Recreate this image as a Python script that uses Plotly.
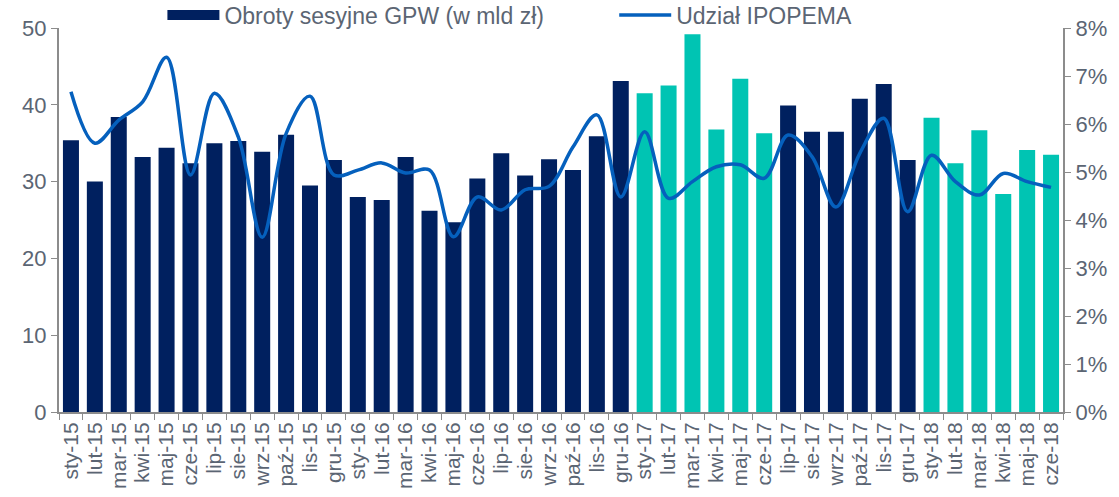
import plotly.graph_objects as go

months = ["sty-15","lut-15","mar-15","kwi-15","maj-15","cze-15","lip-15","sie-15","wrz-15","paź-15","lis-15","gru-15",
          "sty-16","lut-16","mar-16","kwi-16","maj-16","cze-16","lip-16","sie-16","wrz-16","paź-16","lis-16","gru-16",
          "sty-17","lut-17","mar-17","kwi-17","maj-17","cze-17","lip-17","sie-17","wrz-17","paź-17","lis-17","gru-17",
          "sty-18","lut-18","mar-18","kwi-18","maj-18","cze-18"]

turnover = [35.4, 30.0, 38.4, 33.2, 34.4, 32.4, 35.0, 35.3, 33.9, 36.1, 29.5, 32.8,
            28.0, 27.6, 33.2, 26.2, 24.7, 30.4, 33.7, 30.8, 32.9, 31.5, 35.9, 43.1,
            41.5, 42.5, 49.2, 36.8, 43.4, 36.3, 39.9, 36.5, 36.5, 40.8, 42.7, 32.8,
            38.3, 32.4, 36.7, 28.4, 34.1, 33.5]

share = [6.67, 5.60, 6.08, 6.46, 7.39, 4.94, 6.64, 5.73, 3.64, 5.80, 6.58, 4.94,
         5.04, 5.19, 4.98, 5.04, 3.65, 4.48, 4.21, 4.63, 4.70, 5.52, 6.19, 4.48,
         5.84, 4.45, 4.80, 5.11, 5.15, 4.87, 5.77, 5.32, 4.27, 5.39, 6.12, 4.17,
         5.35, 4.80, 4.52, 4.97, 4.80, 4.68]

NAVY = "#00205F"
TEAL = "#00C4B3"
LINE = "#0560BD"
TXT = "#5B6573"
AX = "#8C8C8C"

bar_colors = [TEAL if (m.endswith("-17") or m.endswith("-18")) and m[:3] in ("sty","lut","mar","kwi","maj","cze") else NAVY
              for m in months]

fig = go.Figure()
fig.add_trace(go.Bar(x=months, y=turnover, name="Obroty sesyjne GPW (w mld zł)", showlegend=False,
                     marker=dict(color=bar_colors, line=dict(width=0)), yaxis="y"))
# legend-only entry drawn as a wide block, like the original legend swatch
fig.add_trace(go.Scatter(x=[None], y=[None], mode="lines", name="Obroty sesyjne GPW (w mld zł)",
                         line=dict(color=NAVY, width=11), yaxis="y", legend="legend"))
fig.add_trace(go.Scatter(x=months, y=[v/100 for v in share], name="Udział IPOPEMA", mode="lines",
                         line=dict(color=LINE, width=3.5, shape="spline", smoothing=1.0), yaxis="y2",
                         legend="legend2"))

font_family = "Liberation Sans, Arial, sans-serif"
leg_common = dict(orientation="h", xanchor="left", y=1.034, yanchor="middle",
                  font=dict(size=23, color=TXT), bgcolor="rgba(0,0,0,0)", itemwidth=52)

fig.update_layout(
    width=1119, height=497,
    margin=dict(l=59, r=56, t=28, b=85, autoexpand=False),
    paper_bgcolor="white", plot_bgcolor="white",
    font=dict(family=font_family, color=TXT),
    bargap=0.33,
    showlegend=True,
    legend=dict(x=0.103, **leg_common),
    legend2=dict(x=0.553, **leg_common),
    xaxis=dict(type="category", tickmode="array", tickvals=months, ticktext=months,
               tickangle=-90, tickfont=dict(size=21, color=TXT),
               showline=True, linecolor=AX, linewidth=2, ticks="outside", tickson="boundaries",
               ticklen=6, tickcolor=AX, showgrid=False, zeroline=False),
    yaxis=dict(range=[0, 50], dtick=10, tickfont=dict(size=22, color=TXT), showline=True,
               linecolor=AX, linewidth=2, ticks="outside", ticklen=6, tickcolor=AX,
               showgrid=False, zeroline=False),
    yaxis2=dict(range=[0, 0.08], dtick=0.01, tickformat=".0%", overlaying="y", side="right",
                tickfont=dict(size=22, color=TXT), showline=True, linecolor=AX, linewidth=2,
                ticks="outside", ticklen=6, tickcolor=AX, showgrid=False, zeroline=False),
)

fig.write_html("out.html", config={"displayModeBar": False},
               post_script="document.body.style.margin='0';")
